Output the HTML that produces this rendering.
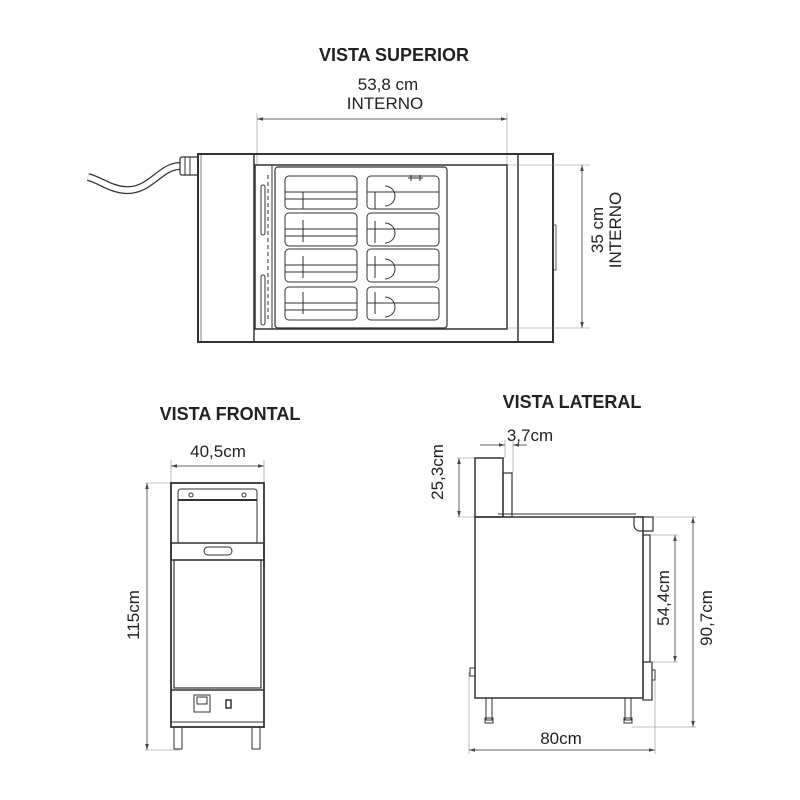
<!DOCTYPE html>
<html><head><meta charset="utf-8"><style>
html,body{margin:0;padding:0;background:#fff;}
svg{display:block;}
text{font-family:"Liberation Sans",sans-serif;fill:#222;}
.b{font-weight:bold;font-size:18px;}
.t{font-size:17px;}
</style></head><body>
<svg width="800" height="800" viewBox="0 0 800 800" xmlns="http://www.w3.org/2000/svg">
<defs>
<marker id="a" viewBox="0 0 10 10" refX="10" refY="5" markerWidth="6" markerHeight="6" orient="auto-start-reverse"><path d="M0,2 L10,5 L0,8z" fill="#444"/></marker>
</defs>
<g fill="none" stroke="#333" stroke-width="1">
<!-- TOP VIEW -->
<text x="394" y="61" class="b" text-anchor="middle" stroke="none">VISTA SUPERIOR</text>
<text x="388" y="90" class="t" text-anchor="middle" stroke="none">53,8 cm</text>
<text x="385" y="109" class="t" text-anchor="middle" stroke="none">INTERNO</text>
<line x1="257" y1="119" x2="507" y2="119" stroke="#666" marker-start="url(#a)" marker-end="url(#a)"/>
<line x1="257" y1="113" x2="257" y2="165" stroke="#888" stroke-width="0.6"/>
<line x1="507" y1="113" x2="507" y2="165" stroke="#888" stroke-width="0.6"/>
<rect x="198" y="154" width="355" height="188" stroke-width="2"/>
<line x1="254" y1="154" x2="254" y2="342" stroke-width="1.5"/>
<line x1="518" y1="154" x2="518" y2="342" stroke-width="1.5"/>
<line x1="201" y1="154" x2="201" y2="342" stroke-width="0.6"/>
<rect x="255" y="165" width="252" height="164" stroke-width="1.5"/>
<rect x="275" y="167" width="172" height="161" rx="3" stroke-width="1.2"/>
<line x1="272" y1="165" x2="272" y2="329"/>
<rect x="261" y="185" width="4" height="50" rx="2"/>
<rect x="261" y="275" width="4" height="50" rx="2"/>
<line x1="268" y1="175" x2="268" y2="320" stroke-dasharray="4 3"/>
<rect x="553" y="225" width="3" height="45" stroke-width="0.8"/>
<path d="M180,166 C160,166 150,192 125,190 C110,189 100,180 88,177" stroke-width="8" stroke="#333"/>
<path d="M180,166 C160,166 150,192 125,190 C110,189 100,180 88,177" stroke-width="5.5" stroke="#fff"/>
<rect x="180" y="157" width="18" height="18" rx="2" stroke-width="1.2"/>
<path d="M185,157v18M190,157v18"/>
<g stroke-width="1">
<rect x="285" y="176" width="72" height="33" rx="4"/><rect x="367" y="176" width="72" height="33" rx="4"/>
<rect x="285" y="213" width="72" height="33" rx="4"/><rect x="367" y="213" width="72" height="33" rx="4"/>
<rect x="285" y="249" width="72" height="33" rx="4"/><rect x="367" y="249" width="72" height="33" rx="4"/>
<rect x="285" y="287" width="72" height="33" rx="4"/><rect x="367" y="287" width="72" height="33" rx="4"/>
<path d="M285,192h72M285,199h72M303,192v17M285,229h72M285,236h72M303,220v22M285,265h72M285,272h72M303,256v22M285,303h72M285,310h72M303,292v22"/>
<path d="M367,192h72M367,229h72M367,265h72M367,303h72M375,192v17M375,221v22M375,256v22M375,292v22"/>
<path d="M385,186a10,10 0 0 1 0,20M385,223a10,10 0 0 1 0,20M385,259a10,10 0 0 1 0,20M385,297a10,10 0 0 1 0,20"/>
<path d="M408,178h15M411,175v6M420,175v6"/>
</g>
<line x1="582" y1="165" x2="582" y2="328" stroke="#666" marker-start="url(#a)" marker-end="url(#a)"/>
<line x1="507" y1="165" x2="590" y2="165" stroke="#888" stroke-width="0.6"/>
<line x1="507" y1="328" x2="590" y2="328" stroke="#888" stroke-width="0.6"/>
<text transform="translate(603,230) rotate(-90)" class="t" text-anchor="middle" stroke="none">35 cm</text>
<text transform="translate(621,230) rotate(-90)" class="t" text-anchor="middle" stroke="none">INTERNO</text>

<!-- FRONT VIEW -->
<text x="230" y="420" class="b" text-anchor="middle" stroke="none">VISTA FRONTAL</text>
<text x="218" y="457" class="t" text-anchor="middle" stroke="none">40,5cm</text>
<line x1="171" y1="466" x2="264" y2="466" stroke="#666" marker-start="url(#a)" marker-end="url(#a)"/>
<line x1="171" y1="460" x2="171" y2="483" stroke="#888" stroke-width="0.6"/>
<line x1="264" y1="460" x2="264" y2="483" stroke="#888" stroke-width="0.6"/>
<line x1="147" y1="483" x2="147" y2="750" stroke="#666" marker-start="url(#a)" marker-end="url(#a)"/>
<line x1="145" y1="483" x2="171" y2="483" stroke="#888" stroke-width="0.6"/>
<line x1="145" y1="750" x2="180" y2="750" stroke="#888" stroke-width="0.6"/>
<text transform="translate(139,615) rotate(-90)" class="t" text-anchor="middle" stroke="none">115cm</text>
<rect x="171" y="483" width="93" height="244" stroke-width="1.8"/>
<path d="M178,543 V492 a3,3 0 0 1 3,-3 H254 a3,3 0 0 1 3,3 V543"/>
<line x1="178" y1="500" x2="257" y2="500" stroke-width="2"/>
<circle cx="191" cy="495" r="2"/><circle cx="244" cy="495" r="2"/>
<rect x="171" y="543" width="93" height="17" stroke-width="1.5"/>
<rect x="204" y="547" width="28" height="8" rx="4"/>
<rect x="174" y="560" width="87" height="128" stroke-width="1.2"/>
<line x1="171" y1="690" x2="264" y2="690" stroke-width="1.5"/>
<rect x="194" y="695" width="16" height="17"/><rect x="197" y="697" width="10" height="7"/>
<rect x="226" y="700" width="5" height="8" stroke-width="1.5"/>
<line x1="171" y1="722" x2="264" y2="722"/>
<rect x="174" y="727" width="8" height="22"/><rect x="252" y="727" width="8" height="22"/>

<!-- SIDE VIEW -->
<text x="572" y="408" class="b" text-anchor="middle" stroke="none">VISTA LATERAL</text>
<text x="530" y="441" class="t" text-anchor="middle" stroke="none">3,7cm</text>
<line x1="480" y1="445" x2="505" y2="445" stroke="#666" marker-end="url(#a)"/>
<line x1="527" y1="445" x2="513" y2="445" stroke="#666" marker-end="url(#a)"/>
<line x1="505" y1="440" x2="505" y2="458" stroke="#888" stroke-width="0.6"/>
<line x1="513" y1="440" x2="513" y2="473" stroke="#888" stroke-width="0.6"/>
<line x1="459" y1="458" x2="459" y2="517" stroke="#666" marker-start="url(#a)" marker-end="url(#a)"/>
<line x1="457" y1="458" x2="475" y2="458" stroke="#888" stroke-width="0.6"/>
<line x1="457" y1="517" x2="475" y2="517" stroke="#888" stroke-width="0.6"/>
<text transform="translate(443,472) rotate(-90)" class="t" text-anchor="middle" stroke="none">25,3cm</text>
<rect x="475" y="458" width="28" height="59" stroke-width="1.5"/>
<rect x="503" y="473" width="9" height="44" stroke-width="1.2"/>
<rect x="475" y="517" width="168" height="181" stroke-width="1.5"/>
<line x1="498" y1="514" x2="636" y2="514"/>
<path d="M634,517 H653 V531 H640 a6,6 0 0 1 -6,-6z" stroke-width="1.2"/>
<rect x="643" y="535" width="7" height="127" stroke-width="1.2"/>
<rect x="643" y="662" width="9" height="38" stroke-width="1.2"/>
<rect x="652" y="670" width="3" height="10"/>
<rect x="470" y="668" width="5" height="8"/>
<rect x="486" y="698" width="6" height="22"/><rect x="485" y="718" width="8" height="5"/>
<rect x="625" y="698" width="6" height="22"/><rect x="624" y="718" width="8" height="5"/>
<line x1="675" y1="535" x2="675" y2="662" stroke="#666" marker-start="url(#a)" marker-end="url(#a)"/>
<line x1="650" y1="535" x2="678" y2="535" stroke="#888" stroke-width="0.6"/>
<line x1="650" y1="662" x2="678" y2="662" stroke="#888" stroke-width="0.6"/>
<text transform="translate(669,598) rotate(-90)" class="t" text-anchor="middle" stroke="none">54,4cm</text>
<line x1="693" y1="517" x2="693" y2="727" stroke="#666" marker-start="url(#a)" marker-end="url(#a)"/>
<line x1="653" y1="517" x2="696" y2="517" stroke="#888" stroke-width="0.6"/>
<line x1="632" y1="727" x2="696" y2="727" stroke="#888" stroke-width="0.6"/>
<text transform="translate(712,618) rotate(-90)" class="t" text-anchor="middle" stroke="none">90,7cm</text>
<line x1="469" y1="750" x2="655" y2="750" stroke="#666" marker-start="url(#a)" marker-end="url(#a)"/>
<line x1="469" y1="672" x2="469" y2="754" stroke="#888" stroke-width="0.6"/>
<line x1="655" y1="680" x2="655" y2="754" stroke="#888" stroke-width="0.6"/>
<text x="561" y="744" class="t" text-anchor="middle" stroke="none">80cm</text>
</g>
</svg>
</body></html>
